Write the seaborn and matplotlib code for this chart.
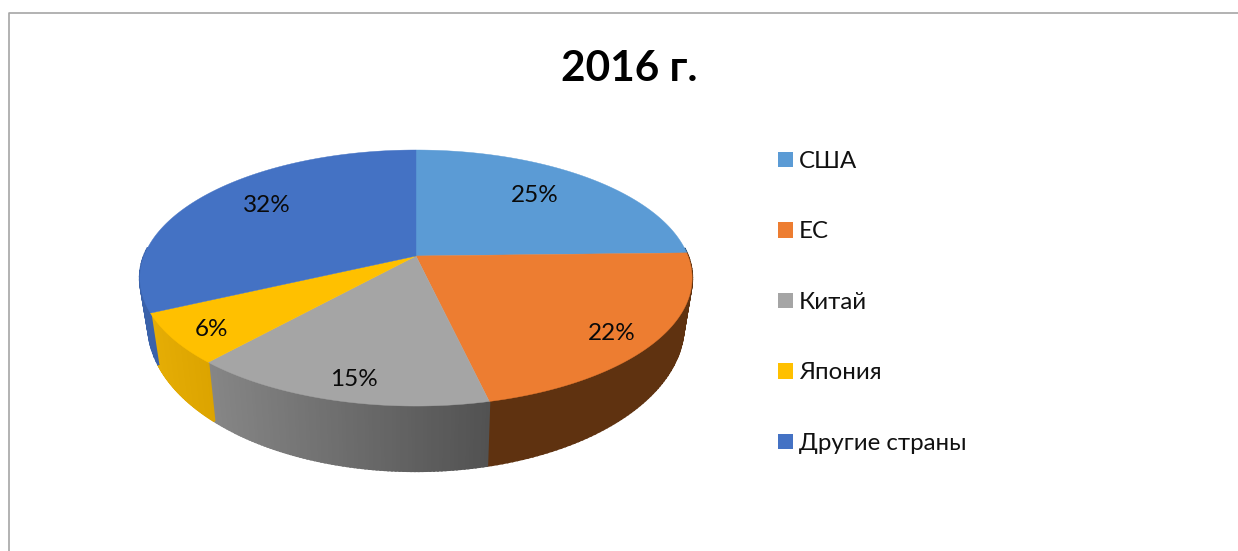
import numpy as np
import matplotlib
matplotlib.use("Agg")
import matplotlib.pyplot as plt
from matplotlib.patches import Patch
import seaborn as sns

categories = ["США", "ЕС", "Китай", "Япония", "Другие страны"]
values = [24.6, 21.8, 15.2, 6.4, 32.0]
title = "2016 г."

sns.set_theme(style="white")
plt.rcParams["font.family"] = ["Lato", "Open Sans", "DejaVu Sans"]

top_colors = sns.color_palette(["#5B9BD5", "#ED7D31", "#A5A5A5", "#FFC000", "#4472C4"])
# side wall colours, left end and right end of each slice
side_left = ["#33587a", "#5f3210", "#868686", "#e5ad05", "#3a62aa"]
side_right = ["#33587a", "#5f3210", "#525252", "#dca400", "#3a62aa"]


# circle -> screen pixels, with the perspective of the tilted pie
def project(t):
    u, v = np.sin(t), -np.cos(t)
    den = 1 - 0.172 * v
    return 416 + 272 * u / den, (80.2 * v + 256) / den


# lower rim of the pie for the same angle
def project_low(t):
    x, y = project(t)
    return 416 + (x - 416) * 0.97, y + 52 + 0.14 * (y - 313)


fig, ax = plt.subplots(figsize=(12.38, 5.51), dpi=100)
fig.subplots_adjust(0, 0, 1, 1)
ax.set_xlim(0, 1238)
ax.set_ylim(551, 0)
ax.axis("off")

# chart frame, only top and left show in the source
ax.plot([8.5, 8.5, 1238], [551, 12.5, 12.5], color="#a6a6a6", lw=1.2)

edges = np.cumsum([0] + values) / sum(values) * 2 * np.pi

# side walls first, top faces go over them
for i in range(len(values)):
    ts = np.linspace(edges[i], edges[i + 1], 80)
    c0 = np.array(matplotlib.colors.to_rgb(side_left[i]))
    c1 = np.array(matplotlib.colors.to_rgb(side_right[i]))
    xs = project(ts)[0]
    for a, b in zip(ts[:-1], ts[1:]):
        # back of the pie is hidden, its edges would only fringe the rim
        if -np.cos(a) < -0.05 and -np.cos(b) < -0.05:
            continue
        xa, ya = project(a)
        xb, yb = project(b)
        xc, yc = project_low(b)
        xd, yd = project_low(a)
        f = ((xa + xb) / 2 - xs.min()) / max(xs.max() - xs.min(), 1)
        col = c0 + (c1 - c0) * f
        ax.fill([xa, xb, xc, xd], [ya, yb, yc, yd], color=col, lw=1.5, zorder=2)

for i in range(len(values)):
    ts = np.linspace(edges[i], edges[i + 1], 200)
    xs, ys = project(ts)
    ax.fill(np.r_[416, xs], np.r_[256, ys], color=top_colors[i], lw=0.3, zorder=3)

# value labels
label_xy = [(535, 196), (612, 333), (354, 379), (211, 330), (267, 206)]
for v, (lx, ly) in zip(values, label_xy):
    ax.text(lx, ly, f"{v:.0f}%", ha="center", va="center", fontsize=17.5, color="#0a0a0a", zorder=4)

ax.text(629, 69, title, ha="center", va="center", fontsize=30.5, fontweight="bold", color="black")

handles = [Patch(facecolor=c, edgecolor="none") for c in top_colors]
ax.legend(handles, categories, loc="upper left", bbox_to_anchor=(778 / 1238, 1 - 151 / 551),
          frameon=False, fontsize=17.3, handlelength=0.62, handleheight=0.62, handletextpad=0.25,
          labelspacing=2.06, borderpad=0, borderaxespad=0, labelcolor="#111111")

fig.savefig("out.png", dpi=100)
